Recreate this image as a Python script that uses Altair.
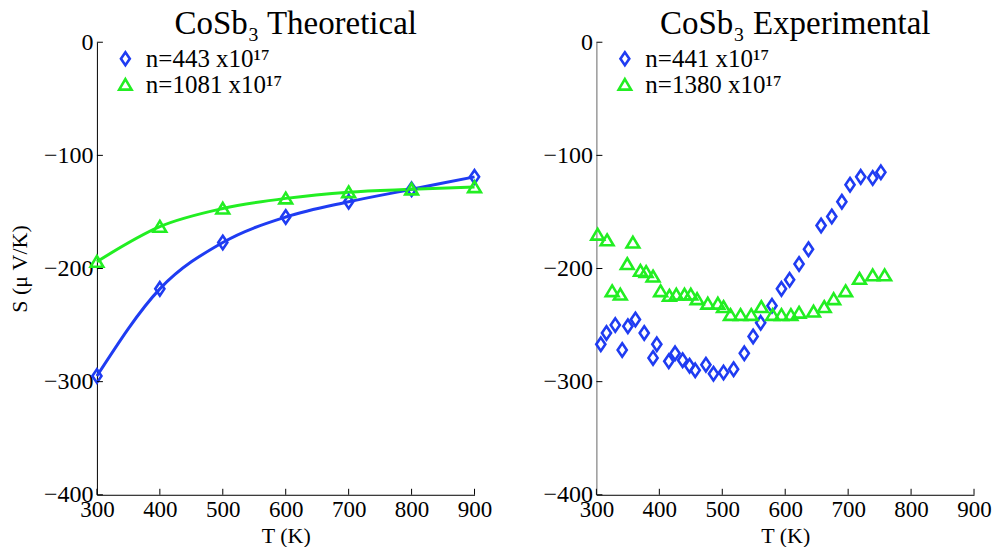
import altair as alt
import pandas as pd

FONT = "Liberation Serif"
BLUE = "#1f3cf2"
GREEN = "#22ee22"
DIAMOND = "M0,-1L0.68,0L0,1L-0.68,0Z"
TRIANGLE = "M0,-0.85L0.95,0.75L-0.95,0.75Z"

# ---- data ----
T_theory = [300, 400, 500, 600, 700, 800, 900]
S_theory_443 = [-295, -218, -177, -154.5, -141, -130, -119]
S_theory_1081 = [-194, -163, -147, -138, -132.5, -130, -128]

T_exp_441 = [307, 316, 330, 341, 350, 362, 376, 390, 396, 415, 425, 437, 448, 457,
             474, 486, 502, 518, 535, 549, 561, 579, 594, 607, 622, 637, 657, 674,
             690, 703, 720, 739, 752]
S_exp_441 = [-267, -257, -250, -272, -251, -245, -257, -279, -267, -282, -275, -281,
             -286, -290, -285, -293, -292, -289, -275, -260, -248, -233, -218, -210,
             -196, -183, -162, -154, -141, -126, -119, -120, -115]

T_exp_1380 = [302, 317, 325, 338, 349, 358, 370, 379, 390, 402, 416, 427, 440, 450,
              460, 477, 493, 502, 513, 529, 546, 562, 580, 594, 609, 622, 645, 662,
              677, 696, 718, 739, 758]
S_exp_1380 = [-170, -175, -220, -223, -196, -177, -202, -203, -207, -220, -224, -223,
              -223, -223, -227, -231, -231, -234, -241, -241, -241, -234, -241, -241,
              -241, -239, -238, -234, -227, -220, -209, -206, -206]

lab_t1 = "n=443 x10¹⁷"
lab_t2 = "n=1081 x10¹⁷"
lab_e1 = "n=441 x10¹⁷"
lab_e2 = "n=1380 x10¹⁷"

x_ticks = [300, 400, 500, 600, 700, 800, 900]
y_ticks = [-400, -300, -200, -100, 0]

W, H = 378, 453
TICK = 6

left_df = pd.DataFrame({
    "T": T_theory * 2,
    "S": S_theory_443 + S_theory_1081,
    "series": [lab_t1] * len(T_theory) + [lab_t2] * len(T_theory),
})
right_df = pd.DataFrame({
    "T": T_exp_441 + T_exp_1380,
    "S": S_exp_441 + S_exp_1380,
    "series": [lab_e1] * len(T_exp_441) + [lab_e2] * len(T_exp_1380),
})
xt_df = pd.DataFrame({"T": x_ticks})
yt_df = pd.DataFrame({"S": y_ticks})


def legend_params():
    return dict(title=None, orient="none", legendX=16, legendY=4,
                labelFontSize=25, labelFont=FONT, labelColor="black",
                symbolStrokeWidth=2.6, symbolSize=170, labelOffset=8,
                rowPadding=0, labelLimit=400)


def panel(df, labels, title, lines, ytitle, ycolor):
    xenc = alt.X("T:Q", scale=alt.Scale(domain=[300, 900], nice=False),
                 axis=alt.Axis(values=x_ticks, format="d", title="T (K)", ticks=False,
                               labelFlush=False, labelPadding=4, titlePadding=4,
                               labelFontSize=23, domainColor="black"))
    if ytitle:
        yaxis = alt.Axis(values=y_ticks, format="d", ticks=False, labelPadding=4,
                         labelFlush=False, domainColor=ycolor, title=ytitle,
                         titlePadding=12)
    else:
        yaxis = alt.Axis(values=y_ticks, format="d", ticks=False, labelPadding=4,
                         labelFlush=False, domainColor=ycolor, title=None)
    yenc = alt.Y("S:Q", scale=alt.Scale(domain=[-400, 0], nice=False), axis=yaxis)

    base = alt.Chart(df)
    pts = base.mark_point(filled=False, strokeWidth=2.6, size=180, opacity=1).encode(
        x=xenc, y=yenc,
        color=alt.Color("series:N", scale=alt.Scale(domain=labels, range=[BLUE, GREEN]),
                        legend=alt.Legend(**legend_params())),
        shape=alt.Shape("series:N", scale=alt.Scale(domain=labels, range=[DIAMOND, TRIANGLE]),
                        legend=alt.Legend(**legend_params())),
    )
    layers = []
    if lines:
        ln = base.mark_line(strokeWidth=3, interpolate="monotone").encode(
            x=xenc, y=yenc, detail="series:N",
            stroke=alt.Stroke("series:N", scale=alt.Scale(domain=labels, range=[BLUE, GREEN]),
                              legend=None),
        )
        layers.append(ln)
    layers.append(pts)
    xt = alt.Chart(xt_df).mark_rule(color="black", strokeWidth=1).encode(
        x=alt.X("T:Q"), y=alt.value(H), y2=alt.value(H - TICK))
    yt = alt.Chart(yt_df).mark_rule(color="black", strokeWidth=1).encode(
        y=alt.Y("S:Q"), x=alt.value(0), x2=alt.value(TICK))
    layers += [xt, yt]
    return alt.layer(*layers).properties(
        width=W, height=H,
        title=alt.TitleParams(title, fontSize=33, font=FONT, fontWeight="normal",
                              anchor="middle", dx=10, offset=-11, color="black"),
    ).resolve_scale(color="independent", shape="independent", stroke="independent")


left = panel(left_df, [lab_t1, lab_t2], "CoSb₃ Theoretical", True, "S (μ V/K)", "black")
right = panel(right_df, [lab_e1, lab_e2], "CoSb₃ Experimental", False, None, "#666666")

chart = alt.hconcat(left, right, spacing=50).resolve_scale(
    color="independent", shape="independent", stroke="independent"
).resolve_legend(color="independent", shape="independent").configure(
    padding=0
).configure_view(stroke=None).configure_axis(
    labelFont=FONT, titleFont=FONT, labelFontSize=24, titleFontSize=22,
    labelColor="black", titleColor="black", titleFontWeight="normal",
    grid=False, domainWidth=1,
)

chart.save("out.html", embed_options={"renderer": "svg", "actions": False})
